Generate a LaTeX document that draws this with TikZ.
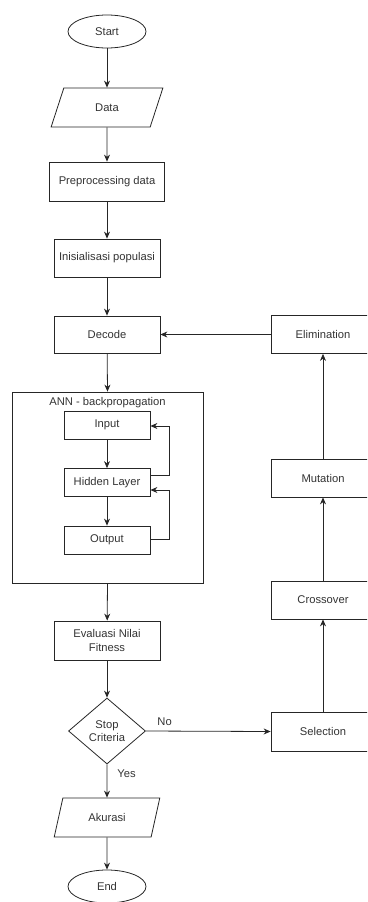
\documentclass[tikz,border=0pt]{standalone}
\usepackage{fontspec}
\setmainfont{Liberation Sans}
\usetikzlibrary{shapes.geometric,arrows.meta}
\begin{document}
\begin{tikzpicture}[x=1pt,y=-1pt,
  every node/.style={font=\fontsize{11.2}{13.5}\selectfont, text=black!80, align=center, inner sep=0pt},
  box/.style={draw=black!85, line width=0.8pt, rectangle, minimum width=106, minimum height=38},
  oval/.style={draw=black!85, line width=0.8pt, ellipse, minimum width=78, minimum height=33},
  para/.style={trapezium, draw=black!85, line width=0.8pt, trapezium left angle=66, trapezium right angle=114, trapezium stretches, minimum width=112, minimum height=39},
  dia/.style={diamond, draw=black!85, line width=0.8pt, minimum width=77, minimum height=66, aspect=1.17},
  inbox/.style={draw=black!85, line width=0.8pt, rectangle, minimum width=86, minimum height=28},
  gabox/.style={draw=black!85, line width=0.8pt, rectangle, minimum width=104, minimum height=38},
  arr/.style={draw=black!85, line width=0.8pt, -{Stealth[length=7pt,width=6pt]}},
  lbl/.style={font=\fontsize{11.2}{13.5}\selectfont}
]
\useasboundingbox (0,0) rectangle (367,902);
\clip (0,0) rectangle (367,902);

\node[oval] (start) at (107,31.5) {Start};
\node[para] (data) at (107,107.5) {Data};
\node[box, minimum width=115, minimum height=39] (prep) at (107,181.5) {Preprocessing data};
\node[box] (init) at (107,258) {Inisialisasi populasi};
\node[box, minimum height=37] (dec) at (107,334.5) {Decode};

\node[draw=black!85, line width=0.8pt, rectangle, minimum width=191, minimum height=191] (ann) at (107.5,487.5) {};
\node (annlbl) at (107.5,403) {ANN - backpropagation};
\node[inbox] (inp) at (107,425) {Input};
\node[inbox] (hid) at (107,482.5) {Hidden Layer};
\node[inbox] (out) at (107,540) {Output};
\coordinate (c1) at (169,475);
\coordinate (c2) at (169,426);
\coordinate (c3) at (169,539);
\coordinate (c4) at (169,490);

\node[box, minimum height=39] (eval) at (107,640.5) {Evaluasi Nilai\\Fitness};
\node[dia] (stop) at (107,731) {Stop\\Criteria};
\node[para, minimum width=106] (akur) at (107,817.5) {Akurasi};
\node[oval] (end) at (107,886.5) {End};

\node[gabox] (elim) at (323,334.5) {Elimination};
\node[gabox] (mut) at (323,478) {Mutation};
\node[gabox] (cross) at (323,600) {Crossover};
\node[gabox, minimum height=39] (sel) at (323,731.5) {Selection};

\draw[arr] (start) -- (data);
\draw[arr] (data) -- (prep);
\draw[arr] (prep) -- (init);
\draw[arr] (init) -- (dec);
\draw[arr] (dec) -- (ann.north);
\draw[arr] (inp) -- (hid);
\draw[arr] (hid) -- (out);
\draw[arr] (hid.east |- c1) -- (c1) -- (c2) -- (inp.east |- c2);
\draw[arr] (out.east |- c3) -- (c3) -- (c4) -- (hid.east |- c4);
\draw[arr] (ann.south) -- (eval);
\draw[arr] (eval) -- (stop);
\draw[arr] (stop) -- node[lbl, right, xshift=10pt, yshift=7pt] {Yes} (akur);
\draw[arr] (akur) -- (end);
\draw[arr] (stop.east) -- node[lbl, pos=0.15, above, yshift=5pt] {No} (sel.west);
\draw[arr] (sel) -- (cross);
\draw[arr] (cross) -- (mut);
\draw[arr] (mut) -- (elim);
\draw[arr] (elim.west) -- (dec.east);
\end{tikzpicture}
\end{document}
